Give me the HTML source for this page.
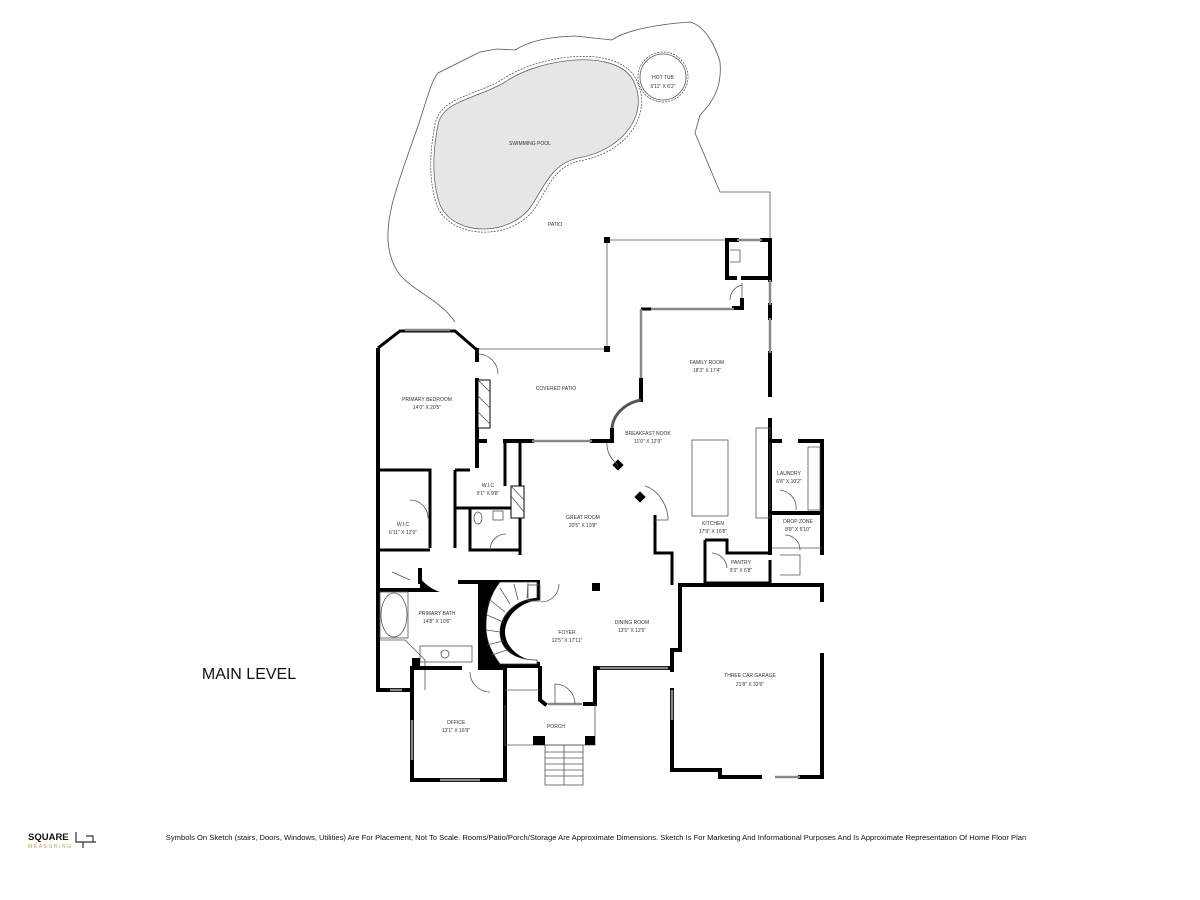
<!DOCTYPE html>
<html><head><meta charset="utf-8"><style>
html,body{margin:0;padding:0;background:#fff;}
svg{display:block;}
text{font-family:"Liberation Sans",sans-serif;fill:#333;}
.t{font-size:5px;text-anchor:middle;}
.w{stroke:#000;stroke-width:4;fill:none;stroke-linecap:square;}
.w3{stroke:#000;stroke-width:3;fill:none;}
.n{stroke:#555;stroke-width:0.8;fill:none;}
.d{stroke:#444;stroke-width:0.7;fill:none;stroke-dasharray:2 1.2;}
.win{stroke:#888;stroke-width:2.5;fill:none;}
</style></head><body>
<svg width="1200" height="900" viewBox="0 0 1200 900" xmlns="http://www.w3.org/2000/svg">
<rect width="1200" height="900" fill="#fff"/>
<path class="n" d="M455,322 C440,300 415,292 400,275 C385,255 386,230 392,205 C398,180 410,150 420,120 C428,95 432,80 438,73 L480,52 L497,49 L515,50 C528,42 545,37 575,36 L612,40 C625,30 660,24 690,22 C705,26 715,45 720,62 C722,85 715,100 700,115 L695,133 L720,192 L770,192 L770,300"/>
<path d="M438,125 C442,100 480,98 505,82 C540,58 615,48 633,80 C650,112 625,150 578,158 C552,164 545,185 532,205 C512,236 455,238 440,205 C430,175 434,145 438,125 Z" fill="#e6e6e6" stroke="#666" stroke-width="0.8"/>
<path d="M435,125 C439,97 478,95 503,79 C540,54 618,44 636,79 C654,114 627,153 579,161 C554,167 548,188 535,208 C514,240 452,241 437,206 C427,176 431,145 435,125 Z" class="d"/>
<circle cx="663" cy="77" r="23" class="n"/><circle cx="663" cy="77" r="25" class="d"/>
<text class="t" x="530" y="145">SWIMMING POOL</text>
<text class="t" x="663" y="79">HOT TUB</text><text class="t" x="663" y="88">6'11" X 6'2"</text>
<text class="t" x="555" y="226">PATIO</text>
<path class="n" d="M477,349 L607,349 L607,240 L727,240"/>
<rect x="604" y="237" width="6" height="6" fill="#000"/><rect x="604" y="346" width="6" height="6" fill="#000"/>
<path class="w" d="M727,240 L727,278 L735,278 M743,278 L768,278 M770,240 L770,280 M727,240 L737,240 M762,240 L770,240"/>
<path class="win" d="M737,240 L762,240"/>
<path class="n" d="M742,283 L742,305 M730,300 A15,15 0 0 1 742,285 M730,250 L740,250 L740,262 L730,262"/>
<path class="w" d="M734,308 L742,308 L742,300"/><path class="w3" d="M641,309 L651,309"/>
<path class="win" d="M651,309 L734,309"/>
<path class="w" d="M770,305 L770,318 M770,353 L770,395 M770,420 L770,553"/>
<path class="win" d="M770,280 L770,305 M770,318 L770,353"/>
<path class="win" d="M641,309 L641,380"/><path class="w" d="M641,380 L641,400"/>
<path d="M641,400 C625,403 612,415 612,430" stroke="#555" stroke-width="3" fill="none"/>
<path class="w" d="M612,430 L612,441"/>
<rect x="614" y="461" width="8" height="8" fill="#000" transform="rotate(45 618 465)"/>
<path class="n" d="M607,441 C606,452 612,460 618,465"/>
<path class="w" d="M378,350 L378,690"/>
<path class="w3" d="M378,348 L400,331 L455,331 L477,350"/>
<path class="win" d="M405,330 L450,330"/>
<path class="w" d="M477,350 L477,360 M477,380 L477,466"/>
<rect x="478" y="380" width="12" height="48" fill="#fff" stroke="#000" stroke-width="1"/>
<path class="n" d="M478,380 L490,392 M478,396 L490,408 M478,412 L490,424"/>
<path class="n" d="M478,354 A20,20 0 0 1 498,374"/>
<path class="w" d="M477,441 L485,441 M505,441 L532,441 M592,441 L612,441"/>
<path class="win" d="M532,441 L592,441"/>
<path class="w3" d="M378,470 L430,470 L430,548 M378,550 L430,550"/>
<path class="n" d="M410,500 A18,18 0 0 1 428,518"/>
<path class="w3" d="M455,470 L455,548 M455,470 L470,470 M455,508 L520,508 M520,441 L520,555 M505,441 L505,486"/>
<rect x="511" y="486" width="13" height="32" fill="#fff" stroke="#000"/>
<path class="n" d="M511,486 L524,500 M511,496 L524,512"/>
<path class="w3" d="M470,508 L470,550 L520,550"/>
<ellipse cx="478" cy="518" rx="4" ry="6" class="n"/><rect x="493" y="511" width="10" height="9" class="n"/>
<path class="n" d="M490,550 A16,16 0 0 1 506,534"/>
<path class="w" d="M378,590 L420,590 M420,570 L420,582 M460,582 L480,582 L480,668"/>
<path d="M420,578 Q428,588 440,592 L420,592Z" fill="#000"/>
<ellipse cx="394" cy="615" rx="13" ry="22" class="n"/><rect x="380" y="592" width="28" height="46" class="n"/>
<path class="n" d="M380,640 L405,640 L425,660 L425,690 M392,572 L410,580"/>
<rect x="420" y="646" width="52" height="16" class="n"/><circle cx="445" cy="654" r="4" class="n"/>
<path class="w" d="M378,690 L412,690"/><path class="win" d="M390,690 L402,690"/>
<path d="M412,658 L420,658 L420,670 L412,670Z" fill="#000"/>
<path d="M480,580 L540,580 L540,600 C518,602 505,618 505,632 C505,646 518,660 540,662 L540,668 L480,668 Z" fill="#000"/>
<path d="M500,582 L537,582 L537,598 C512,600 500,618 500,632 C500,648 512,660 537,660 L537,664 L500,664 C490,650 486,640 486,626 C486,606 492,592 500,582Z" fill="#fff" stroke="#333" stroke-width="0.7"/>
<path class="n" d="M490,600 L505,612 M487,615 L503,622 M486,630 L500,632 M487,645 L503,641 M492,655 L507,650 M500,588 L510,604 M514,584 L518,600 M528,583 L527,598"/>
<rect x="528" y="585" width="12" height="16" class="n"/>
<path class="n" d="M541,602 A18,18 0 0 0 559,584"/>
<rect x="592" y="583" width="8" height="8" fill="#000"/>
<path class="w" d="M540,668 L540,700 L545,704 M585,704 L595,704 L595,668 L672,668 L672,650 L680,650 L680,585"/>
<path class="win" d="M600,668 L668,668 M548,704 L582,704"/>
<path class="n" d="M555,704 L555,684 A20,20 0 0 1 575,704"/>
<path class="w" d="M412,668 L412,780 L505,780 L505,668 L480,668 M412,668 L460,668"/>
<path class="win" d="M440,780 L480,780 M412,720 L412,760"/>
<path class="n" d="M470,672 A20,20 0 0 0 490,692"/>
<path class="n" d="M505,705 L505,745 L595,745 L595,704 M505,690 L540,690"/>
<rect x="533" y="736" width="12" height="9" fill="#000"/><rect x="585" y="736" width="10" height="9" fill="#000"/>
<rect x="545" y="745" width="38" height="40" class="n"/>
<path class="n" d="M545,752 L583,752 M545,758 L583,758 M545,764 L583,764 M545,770 L583,770 M545,776 L583,776 M564,745 L564,785"/>
<rect x="692" y="440" width="36" height="76" class="n"/>
<rect x="756" y="428" width="14" height="90" class="n"/>
<path class="w3" d="M655,515 L655,553 L672,553 L672,585"/>
<rect x="636" y="493" width="8" height="8" fill="#000" transform="rotate(45 640 497)"/>
<path class="n" d="M645,486 C658,490 668,505 668,520 L655,520"/>
<path class="w3" d="M705,540 L705,585 M705,540 L727,540 L727,553 L770,553 M705,583 L770,583 L770,560"/>
<path class="n" d="M712,553 A16,16 0 0 1 727,568"/>
<path class="w" d="M770,441 L780,441 M800,441 L822,441 L822,553 M770,513 L822,513"/>
<path class="n" d="M808,447 L820,447 L820,510 L808,510 Z M772,548 L822,548 M780,490 A18,18 0 0 1 796,510"/>
<path class="n" d="M780,555 L800,555 L800,575 L780,575 M785,535 A15,15 0 0 1 800,550"/>
<path class="w" d="M680,585 L822,585 M822,585 L822,600 M822,655 L822,777 L800,777 M760,777 L720,777 L720,770 L672,770 L672,690 M672,670 L672,655"/>
<path class="win" d="M672,690 L672,720 M775,777 L800,777"/>
<text class="t" x="707" y="364">FAMILY ROOM</text><text class="t" x="707" y="372">18'3" X 17'4"</text>
<text class="t" x="556" y="390">COVERED PATIO</text>
<text class="t" x="427" y="401">PRIMARY BEDROOM</text><text class="t" x="427" y="409">14'0" X 20'5"</text>
<text class="t" x="648" y="435">BREAKFAST NOOK</text><text class="t" x="648" y="443">11'0" X 12'9"</text>
<text class="t" x="488" y="487">W.I.C</text><text class="t" x="488" y="495">9'1" X 9'8"</text>
<text class="t" x="403" y="526">W.I.C</text><text class="t" x="403" y="534">6'11" X 12'9"</text>
<text class="t" x="583" y="519">GREAT ROOM</text><text class="t" x="583" y="527">20'5" X 13'8"</text>
<text class="t" x="713" y="525">KITCHEN</text><text class="t" x="713" y="533">17'9" X 16'8"</text>
<text class="t" x="789" y="475">LAUNDRY</text><text class="t" x="789" y="483">6'8" X 10'2"</text>
<text class="t" x="798" y="523">DROP ZONE</text><text class="t" x="798" y="531">8'8" X 5'10"</text>
<text class="t" x="741" y="564">PANTRY</text><text class="t" x="741" y="572">9'3" X 6'8"</text>
<text class="t" x="437" y="615">PRIMARY BATH</text><text class="t" x="437" y="623">14'8" X 10'6"</text>
<text class="t" x="567" y="634">FOYER</text><text class="t" x="567" y="642">12'5" X 17'11"</text>
<text class="t" x="632" y="624">DINING ROOM</text><text class="t" x="632" y="632">13'5" X 12'5"</text>
<text class="t" x="750" y="677">THREE CAR GARAGE</text><text class="t" x="750" y="686">21'8" X 32'6"</text>
<text class="t" x="456" y="724">OFFICE</text><text class="t" x="456" y="732">13'1" X 16'9"</text>
<text class="t" x="556" y="728">PORCH</text>
<text x="249" y="679" style="font-size:16px;text-anchor:middle;fill:#111">MAIN LEVEL</text>
<text x="28" y="840" style="font-size:9.5px;font-weight:bold;fill:#111">SQUARE</text>
<text x="28" y="848" style="font-size:5px;letter-spacing:1.6px;fill:#b8a64a">MEASURING</text>
<path d="M76,832 L76,842 L96,842 M86,836 L93,836 L93,842 M83,842 L83,848" stroke="#333" stroke-width="1.2" fill="none"/>
<text x="596" y="840" style="font-size:7.6px;text-anchor:middle;fill:#111">Symbols On Sketch (stairs, Doors, Windows, Utilities) Are For Placement, Not To Scale. Rooms/Patio/Porch/Storage Are Approximate Dimensions. Sketch Is For Marketing And Informational Purposes And Is Approximate Representation Of Home Floor Plan</text>
</svg>
</body></html>
